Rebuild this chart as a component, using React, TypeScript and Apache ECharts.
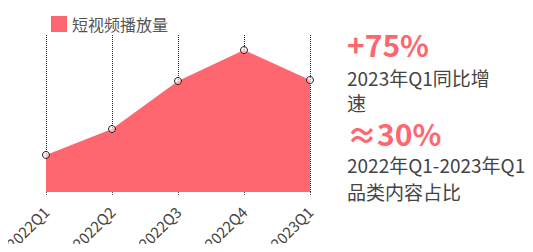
import React, { useEffect, useRef } from "react";
import * as echarts from "echarts";

const categories = ["2022Q1", "2022Q2", "2022Q3", "2022Q4", "2023Q1"];
const playValues = [23.6, 40.1, 70.7, 90.4, 71.3];
const seriesName = "短视频播放量";
const stat1 = "+75%";
const stat1Label = ["2023年Q1同比增", "速"];
const stat2 = "≈30%";
const stat2Label = ["2022年Q1-2023年Q1", "品类内容占比"];

const RED = "#ff6770";
const FONT = "'Noto Sans CJK SC', 'Noto Sans', sans-serif";

export default function App() {
  const ref = useRef<HTMLDivElement>(null);
  useEffect(() => {
    if (!ref.current) return;
    const chart = echarts.init(ref.current, undefined, { renderer: "svg" });
    const labelStyle = (text: string) => ({ text, fill: "#444", font: `19px ${FONT}`, lineHeight: 20 });
    chart.setOption({
      animation: false,
      textStyle: { fontFamily: FONT },
      legend: {
        left: 38,
        top: 3,
        itemWidth: 16,
        itemHeight: 16,
        itemGap: 5,
        icon: "rect",
        textStyle: { fontSize: 16, color: "#555", fontFamily: FONT },
        data: [{ name: seriesName, itemStyle: { color: RED, borderWidth: 0 } }],
      },
      grid: { left: 38, right: 215, top: 27, bottom: 52, outerBoundsMode: "none", containLabel: false },
      xAxis: {
        type: "category",
        boundaryGap: false,
        data: categories,
        axisLine: { show: false },
        axisTick: { show: true, lineStyle: { color: "#555", type: "dotted" }, length: 3 },
        axisLabel: { rotate: 45, fontSize: 15, color: "#444", margin: 17, fontFamily: FONT },
        splitLine: { show: true, lineStyle: { color: "#222", type: "dotted", width: 1 } },
      },
      yAxis: {
        type: "value",
        min: 0,
        max: 100,
        show: false,
        splitLine: { show: false },
      },
      series: [
        {
          name: seriesName,
          type: "line",
          data: playValues,
          symbol: "circle",
          symbolSize: 7,
          itemStyle: { color: "rgba(255,230,232,0.6)", borderColor: "#222", borderWidth: 1 },
          lineStyle: { width: 0, color: RED },
          areaStyle: { color: RED, opacity: 1 },
          z: 1,
        },
      ],
      graphic: [
        { type: "text", left: 339, top: 21, style: { text: stat1, fill: RED, font: `bold 30px ${FONT}`, lineHeight: 30 } },
        { type: "text", left: 339, top: 59, style: labelStyle(stat1Label[0]) },
        { type: "text", left: 339, top: 84, style: labelStyle(stat1Label[1]) },
        { type: "text", left: 339, top: 110, style: { text: stat2, fill: RED, font: `bold 30px ${FONT}`, lineHeight: 28 } },
        { type: "text", left: 339, top: 146.5, style: labelStyle(stat2Label[0]) },
        { type: "text", left: 339, top: 173.5, style: labelStyle(stat2Label[1]) },
      ],
    });
    return () => chart.dispose();
  }, []);
  return <div ref={ref} style={{ width: 517, height: 236 }} />;
}
